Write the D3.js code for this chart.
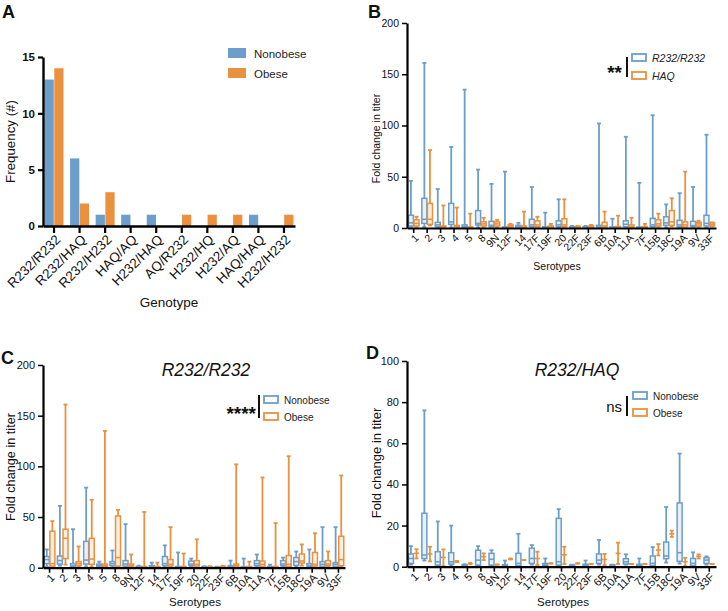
<!DOCTYPE html>
<html><head><meta charset="utf-8">
<script src="https://cdn.jsdelivr.net/npm/d3@7"></script>
<style>
body{margin:0;background:#fff;}
text{font-family:"Liberation Sans",Arial,sans-serif;}
</style></head>
<body><svg id="c" width="728" height="611"></svg>
<script>
// ---------- Panel A data ----------
const genotypes = ["R232/R232","R232/HAQ","R232/H232","HAQ/AQ","H232/HAQ","AQ/R232","H232/HQ","H232/AQ","HAQ/HAQ","H232/H232"];
const freqNonobese = [13,6,1,1,1,0,0,0,1,0];
const freqObese    = [14,2,3,0,0,1,1,1,0,1];
const freqTicks = [0,5,10,15];

// ---------- Serotypes ----------
const serotypes = ["1","2","3","4","5","8","9N","12F","14","17F","19F","20","22F","23F","6B","10A","11A","7F","15B","18C","19A","9V","33F"];
const foldTicks200 = [0,50,100,150,200];
const foldTicks100 = [0,20,40,60,80,100];

// [min, q1, median, q3, max]
// ---------- Panel B ----------
const bR232 = [[0.5,2,5,12.5,46],[1,4.5,8.5,29,161],[0.3,1.3,3,5.5,38],[0.5,3.5,6,24,79],[0.2,0.5,1.5,3,135],[0.5,3,4.5,17,57],[0.3,1.3,2.6,6.5,43],[0.2,0.3,0.5,1,55],[0.2,0.3,1,2.6,5],[0.3,1.3,3,8.5,40],[0.2,0.3,0.6,1.2,15],[0.3,1.3,3,7,28],[0.2,0.4,0.7,1.2,2],[0.2,0.4,0.7,1.2,2],[0.2,0.3,1,2.6,102],[0.1,0.3,0.5,1,9],[0.3,1.3,3.6,7,89],[0.1,0.3,0.5,1,44],[0.3,1.3,3,9.4,110],[0.5,2.6,5,11,23],[0.3,1.3,3,7.5,34],[0.3,1.3,2.3,6.5,40],[0.5,2,4.5,12.4,91]];
const bHAQ = [[1,2,4.5,8,11],[2.5,3.5,8.5,24,76],[0.3,0.5,1,2,22],[0.5,1,1.5,2.5,20],[0.3,0.5,0.7,1,14],[1,2,4,6,10],[0.8,2,4,6,8],[0.8,1,2,3,4],[0.3,0.5,1,2,16],[0.8,1.3,3,7,11],[0.5,0.8,1.3,2,4],[0.8,1.3,3,9,28],[0.5,0.8,1,1.5,2],[0.5,0.8,1.3,2,3],[0.5,1,2,5.5,16],[0.3,0.5,1,1.5,12],[0.3,0.5,1.3,3,10],[0.3,0.5,1,1.5,4],[1,2,4,8,14],[1.5,2.6,6,17,29],[0.5,1,3,6,55],[1,2,4,5.5,7],[1.5,2,3.5,5,5.5]];

// ---------- Panel C (R232/R232) ----------
const cNonobese = [[1,4,8,11,18],[2,3.6,7,11.5,61],[0.3,1,2,4,38],[1,3.6,7.5,26,79],[0.3,1,2,3.6,6],[0.5,2,4,6,17],[0.5,1.6,3.6,7,43],[0.2,0.4,0.8,1.2,2],[0.3,0.5,1,2,5],[0.5,2,4,11,22],[0.2,0.4,0.7,1.2,15],[1,2,3.6,6.5,9],[0.2,0.4,0.7,1,1.5],[0.2,0.3,0.5,0.8,1],[0.2,0.5,1,2,7],[0.2,0.4,0.6,1,9],[1,2,4,7,13],[0.2,0.4,0.7,1.2,3],[1,2,3.6,7,10],[1,2.3,6,10,16],[0.3,1,2,4,18],[0.5,1.3,3.3,6,40],[0.5,1.3,3.3,5,40]];
const cObese = [[0.5,1.6,4,36,46],[3,9,29,38,161],[0.8,2,4,6,21],[1,3.3,8.5,29,67],[0.3,1,2,3.6,135],[0.5,1.6,10,51,57],[0.3,1,2,3.6,13],[0.2,0.4,0.7,1.2,55],[0.2,0.4,0.7,1.2,5],[0.5,1.6,3.3,8,40],[0.2,0.4,0.7,1.2,14],[0.5,1.6,3.3,7,28],[0.2,0.4,0.7,1,1.5],[0.2,0.4,0.8,1.2,2],[0.3,1,2,3.6,102],[0.2,0.4,0.7,1.2,6],[0.3,1.3,3.3,6.5,89],[0.2,0.4,0.7,1.2,44],[0.3,1.3,3.3,12,110],[2,4.6,6.6,13.5,23],[0.5,1.6,3.3,15,34],[0.8,2,3.6,7,16],[0.8,2,8,31,91]];

// ---------- Panel D (R232/HAQ) ----------
const dNonobese = [[1,1.6,4,6.2,10],[3,4,5.7,26,76],[0.5,0.8,2.4,7.3,22],[0.8,1.3,2.4,6.8,20],[0.3,0.5,0.8,1,1.2],[0.5,0.8,3.2,8,10],[0.5,0.8,3.6,6.5,8],[0.2,0.4,0.6,1,3],[0.3,0.5,1.6,6.5,16],[1,1.6,4,9,10.5],[0.3,0.5,1,1.6,4],[0.5,0.8,2.4,23.5,28],[0.3,0.5,0.7,0.9,1],[0.3,0.5,0.8,1.2,3],[1,1.6,3.2,6.2,13],[0.3,0.5,0.7,0.9,1],[1,1.3,2.4,3.9,6],[0.3,0.5,0.8,1.2,4],[0.3,0.5,1.6,5.2,9.5],[2,3.9,5.2,12,29],[1.5,2.6,6.8,31,55],[0.3,0.5,1.6,4,7],[1,1.6,3.2,4.4,5]];
const dObese = [[4,6.5,6.5,6.5,8.5],[2.6,6.2,6.2,6.2,9.7],[0.3,4.5,4.5,4.5,8.4],[2.2,2.5,2.5,2.5,2.8],[1.2,1.5,1.5,1.5,1.8],[3.2,4.9,4.9,4.9,6.5],[1,1,1,1,1],[3.5,3.7,3.7,3.7,4],[3.2,3.2,3.2,3.2,3.2],[0.8,4,4,4,7.3],[1.6,1.6,1.6,1.6,1.6],[1.3,5.8,5.8,5.8,9.7],[1.6,1.6,1.6,1.6,1.6],[1.3,1.3,1.3,1.3,1.3],[0.8,3.5,3.5,3.5,6.2],[1.3,6.5,6.5,6.5,11.7],[1.3,1.3,1.3,1.3,1.3],[1.3,1.3,1.3,1.3,1.3],[5.5,8.1,8.1,8.1,11],[14.5,16,16,16,17.5],[0.3,2.4,2.4,2.4,4.3],[4,5,5,5,6],[1.3,1.3,1.3,1.3,1.3]];

const BLUE = "#6c9ecb", ORANGE = "#e9913f";
const svg = d3.select("#c");

// ================= Panel A =================
(function(){
  const g = svg.append("g");
  const x = d3.scaleBand().domain(genotypes).range([43,295]).paddingInner(0.257).paddingOuter(0.06);
  const y = d3.scaleLinear().domain([0,15]).range([226,57]);
  const xs = d3.scaleBand().domain(["n","o"]).range([0,x.bandwidth()]).paddingInner(0.05);
  genotypes.forEach((gn,i)=>{
    g.append("rect").attr("x",x(gn)+xs("n")).attr("width",xs.bandwidth())
      .attr("y",y(freqNonobese[i])).attr("height",y(0)-y(freqNonobese[i])).attr("fill",BLUE);
    g.append("rect").attr("x",x(gn)+xs("o")).attr("width",xs.bandwidth())
      .attr("y",y(freqObese[i])).attr("height",y(0)-y(freqObese[i])).attr("fill",ORANGE);
  });
  const ya = g.append("g").attr("transform","translate(43,0)")
    .call(d3.axisLeft(y).tickValues(freqTicks).tickSize(5).tickSizeOuter(0));
  ya.select(".domain").attr("stroke-width",2.4);
  ya.selectAll(".tick line").attr("stroke-width",2.2);
  ya.selectAll("text").attr("font-size",11.5).attr("font-weight","bold").attr("fill","#111");
  const xa = g.append("g").attr("transform","translate(0,226)")
    .call(d3.axisBottom(x).tickSize(7).tickSizeOuter(0));
  xa.select(".domain").attr("stroke-width",2.4);
  xa.selectAll(".tick line").attr("stroke-width",2.2);
  xa.selectAll("text").attr("font-size",13.5).attr("fill","#111")
    .attr("text-anchor","end").attr("transform","translate(4,11) rotate(-45)").attr("dy","0.35em").attr("y",0).attr("x",0);
  g.append("text").attr("transform","translate(15,141.5) rotate(-90)").attr("text-anchor","middle")
    .attr("font-size",13.3).attr("fill","#111").text("Frequency (#)");
  g.append("text").attr("x",169).attr("y",307).attr("text-anchor","middle").attr("font-size",13.5).attr("fill","#111").text("Genotype");
  // legend
  g.append("rect").attr("x",228).attr("y",48).attr("width",18).attr("height",10).attr("fill",BLUE);
  g.append("rect").attr("x",228).attr("y",68).attr("width",18).attr("height",10).attr("fill",ORANGE);
  g.append("text").attr("x",254).attr("y",57.5).attr("font-size",11.5).attr("fill","#222").text("Nonobese");
  g.append("text").attr("x",254).attr("y",77.5).attr("font-size",11.5).attr("fill","#222").text("Obese");
  g.append("text").attr("x",2).attr("y",18).attr("font-size",18).attr("font-weight","bold").attr("fill","#111").text("A");
})();

// ================= Box panels =================
function boxPanel(o){
  const g = svg.append("g");
  const x = d3.scaleBand().domain(serotypes).range(o.xr);
  const y = d3.scaleLinear().domain(o.yd).range(o.yr);
  const bw = 5, cap = 4, off = 2.8;
  [[o.s1,o.c1,-off],[o.s2,o.c2,off]].forEach(([data,col,dx])=>{
    serotypes.forEach((s,i)=>{
      const d = data[i];
      const cx = x(s)+x.bandwidth()/2+dx;
      const gg = g.append("g");
      gg.append("line").attr("x1",cx).attr("x2",cx).attr("y1",y(d[0])).attr("y2",y(d[4])).attr("stroke",col).attr("stroke-width",1.8);
      gg.append("line").attr("x1",cx-cap/2).attr("x2",cx+cap/2).attr("y1",y(d[4])).attr("y2",y(d[4])).attr("stroke",col).attr("stroke-width",1.8);
      gg.append("line").attr("x1",cx-cap/2).attr("x2",cx+cap/2).attr("y1",y(d[0])).attr("y2",y(d[0])).attr("stroke",col).attr("stroke-width",1.8);
      if (d[3] > d[1]) {
        gg.append("rect").attr("x",cx-bw/2).attr("width",bw).attr("y",y(d[3])).attr("height",Math.max(0.5,y(d[1])-y(d[3])))
          .attr("fill","#fff").attr("stroke",col).attr("stroke-width",1.5);
        gg.append("rect").attr("x",cx-bw/2).attr("width",bw).attr("y",y(d[3])).attr("height",Math.max(0.5,y(d[1])-y(d[3])))
          .attr("fill",col).attr("fill-opacity",0.15);
      }
      gg.append("line").attr("x1",cx-bw/2).attr("x2",cx+bw/2).attr("y1",y(d[2])).attr("y2",y(d[2])).attr("stroke",col).attr("stroke-width",1.6);
    });
  });
  const ya = g.append("g").attr("transform",`translate(${o.xr[0]},0)`)
    .call(d3.axisLeft(y).tickValues(o.ticks).tickSize(5).tickSizeOuter(0));
  ya.select(".domain").attr("stroke-width",2.2);
  ya.selectAll(".tick line").attr("stroke-width",1.5);
  ya.selectAll("text").attr("font-size",o.tfs).attr("fill","#111");
  const xa = g.append("g").attr("transform",`translate(0,${o.yr[0]})`)
    .call(d3.axisBottom(x).tickSize(5).tickSizeOuter(0));
  xa.select(".domain").attr("stroke-width",2.2);
  xa.selectAll(".tick line").attr("stroke-width",1.6);
  xa.selectAll("text").attr("font-size",o.tfs).attr("fill","#111")
    .attr("text-anchor","end").attr("transform","translate(3,8) rotate(-45)").attr("dy","0.35em").attr("y",0).attr("x",0);
  g.append("text").attr("transform",`translate(${o.ylx},${o.yly}) rotate(-90)`).attr("text-anchor","middle")
    .attr("font-size",o.lfs).attr("fill","#111").text("Fold change in titer");
  g.append("text").attr("x",o.sx).attr("y",o.sy).attr("text-anchor","middle")
    .attr("font-size",o.sfs).attr("fill","#111").text("Serotypes");
  if (o.title) g.append("text").attr("x",o.title[1]).attr("y",o.title[2]).attr("text-anchor","middle")
    .attr("font-size",17.5).attr("font-style","italic").attr("fill","#111").text(o.title[0]);
  const L = o.leg;
  g.append("text").attr("x",L.sx).attr("y",L.sy).attr("text-anchor","end").attr("font-size",L.sfs).attr("font-weight",L.sbold?"bold":"normal").attr("fill","#111").text(L.sig);
  g.append("line").attr("x1",L.lx).attr("x2",L.lx).attr("y1",L.ly1).attr("y2",L.ly2).attr("stroke","#111").attr("stroke-width",2);
  g.append("rect").attr("x",L.rx).attr("y",L.r1y).attr("width",14).attr("height",7).attr("fill","#fff").attr("stroke",o.c1).attr("stroke-width",1.8);
  g.append("rect").attr("x",L.rx).attr("y",L.r2y).attr("width",14).attr("height",7).attr("fill","#fff").attr("stroke",o.c2).attr("stroke-width",1.8);
  g.append("text").attr("x",L.tx).attr("y",L.r1y+7.5).attr("font-size",L.tfs).attr("font-style",L.italic?"italic":"normal").attr("fill","#222").text(L.t1);
  g.append("text").attr("x",L.tx).attr("y",L.r2y+7.5).attr("font-size",L.tfs).attr("font-style",L.italic?"italic":"normal").attr("fill","#222").text(L.t2);
  g.append("text").attr("x",o.plx).attr("y",o.ply).attr("font-size",18).attr("font-weight","bold").attr("fill","#111").text(o.pl);
}

boxPanel({xr:[407,716], yd:[0,200], yr:[228,23], ticks:foldTicks200, s1:bR232, s2:bHAQ, c1:BLUE, c2:ORANGE,
  tfs:10.5, lfs:10.5, sfs:10.5, ylx:380, yly:138.5, sx:557, sy:270, pl:"B", plx:368, ply:18,
  leg:{sig:"**", sx:622, sy:79, sfs:19, sbold:true, lx:627, ly1:57, ly2:77, rx:632, r1y:54, r2y:72, tx:652, tfs:10.5, italic:true, t1:"R232/R232", t2:"HAQ"}});

boxPanel({xr:[43,345], yd:[0,200], yr:[567.7,365], ticks:foldTicks200, s1:cNonobese, s2:cObese, c1:BLUE, c2:ORANGE,
  tfs:11, lfs:12.7, sfs:11.5, ylx:15, yly:467, sx:195, sy:606, pl:"C", plx:1, ply:364, title:["R232/R232",206,376],
  leg:{sig:"****", sx:256, sy:420, sfs:19, sbold:true, lx:259, ly1:395, ly2:418, rx:264, r1y:396, r2y:413, tx:284, tfs:10, italic:false, t1:"Nonobese", t2:"Obese"}});

boxPanel({xr:[407,716], yd:[0,100], yr:[566.7,361], ticks:foldTicks100, s1:dNonobese, s2:dObese, c1:BLUE, c2:ORANGE,
  tfs:11, lfs:13, sfs:11.5, ylx:381, yly:463, sx:563, sy:606, pl:"D", plx:366, ply:359, title:["R232/HAQ",577,376],
  leg:{sig:"ns", sx:622, sy:412, sfs:15, sbold:false, lx:627, ly1:396, ly2:416, rx:633, r1y:392, r2y:409, tx:653, tfs:10, italic:false, t1:"Nonobese", t2:"Obese"}});
</script></body></html>
